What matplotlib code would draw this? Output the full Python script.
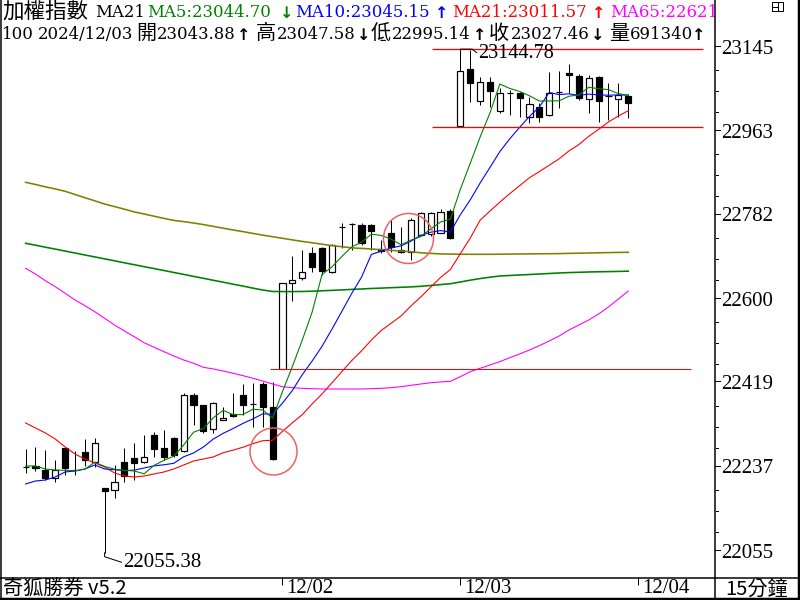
import matplotlib
matplotlib.use('Agg')
import matplotlib.pyplot as plt
from matplotlib.transforms import blended_transform_factory
from matplotlib.lines import Line2D
from matplotlib.patches import Rectangle

# ---------------- data (15-minute bars, 2024/11/28 .. 2024/12/03) ----------------
opens = [22241, 22243, 22234.5, 22217, 22282, 22235, 22273.5, 22252, 22196, 22191,
         22252, 22260.5, 22252, 22310, 22282, 22304, 22276, 22397, 22375, 22323,
         22343, 22356, 22397, 22378, 22420.5, 22371, 22453, 22639, 22650, 22704,
         22715, 22663, 22761, 22766, 22764, 22764, 22712.5, 22747, 22710, 22706,
         22743, 22745, 22747, 22795, 22978, 23102, 23032.6, 23074, 23011, 23050,
         23050, 22998, 23019.6, 23002, 23051, 23093, 23087, 23037, 23084.5, 23043,
         23037, 23043.88]
highs = [22280, 22284, 22278, 22256, 22283, 22276, 22302, 22304, 22196, 22245,
         22282, 22293, 22310, 22317, 22321, 22306, 22401, 22401, 22376, 22382,
         22371, 22401, 22420.5, 22423, 22425, 22425, 22640, 22697, 22710, 22717,
         22717, 22723, 22769, 22769, 22769, 22766.6, 22732, 22775, 22760, 22779.5,
         22792.5, 22792.5, 22799, 22799, 23144.78, 23143, 23084.5, 23084, 23061, 23056,
         23052, 23041, 23028, 23095, 23097, 23112.6, 23091, 23089, 23087, 23071.5,
         23071.5, 23047.58]
lows = [22228, 22232, 22213, 22209, 22224, 22224, 22243, 22241, 22055.38, 22174,
        22209, 22213, 22250, 22263, 22256, 22263, 22273.5, 22332, 22314.5, 22314.5,
        22342, 22349, 22353.5, 22327.5, 22327.5, 22256, 22453, 22600, 22645, 22663,
        22656, 22661, 22715, 22710, 22721, 22710, 22704, 22706, 22704, 22689,
        22741, 22741, 22747, 22734, 22976, 23030, 23024, 23019.6, 23006.6, 23002,
        22998, 22985, 22987, 23000, 23017, 23050, 23035, 23007, 22987, 22991.5,
        22998, 22995.14]
closes = [22240, 22239, 22217, 22234.5, 22239, 22234, 22256, 22293, 22189, 22209,
          22221.5, 22250, 22263, 22280, 22263, 22267, 22397, 22375, 22319, 22379,
          22347, 22351, 22375, 22377, 22371, 22258, 22639, 22645, 22663, 22674,
          22665, 22721, 22759, 22767, 22725.5, 22751, 22708, 22717, 22706, 22775,
          22790, 22790, 22792.5, 22736, 23097, 23071.5, 23073.7, 23054, 23050, 23049,
          23039, 23026, 22998, 23050, 23053, 23089, 23039, 23082, 23032.6, 23044,
          23045.5, 23027.46]

ma5 = [22243.2, 22243.2, 22236.7, 22234.5, 22233.7, 22232.8, 22236.3, 22251.4, 22242.3, 22236.3,
       22233.7, 22232.4, 22226.3, 22244.5, 22255.3, 22264.4, 22288.6, 22316.3, 22324.1, 22347.4,
       22363.4, 22354.3, 22354.3, 22366.0, 22364.3, 22346.6, 22404.1, 22458.2, 22515.3, 22575.8,
       22657.1, 22673.6, 22696.1, 22716.8, 22727.2, 22744.5, 22741.9, 22733.7, 22721.6, 22731.5,
       22739.3, 22755.7, 22770.9, 22776.9, 22841.4, 22897.6, 22954.3, 23006.6, 23069.3, 23059.8,
       23053.3, 23043.8, 23032.6, 23032.6, 23033.0, 23043.0, 23045.5, 23062.4, 23059.0, 23057.2,
       23048.6, 23044.70]
ma10 = [22204.3, 22210.7, 22212.9, 22219.4, 22230.2, 22232.4, 22236.7, 22245.3, 22236.7, 22235.0,
        22233.2, 22234.3, 22238.9, 22243.4, 22245.8, 22249.0, 22263.1, 22271.3, 22284.3, 22301.4,
        22313.9, 22324.1, 22335.3, 22345.0, 22355.9, 22355.0, 22379.2, 22406.3, 22440.6, 22470.1,
        22501.8, 22538.8, 22577.1, 22616.0, 22651.5, 22700.8, 22707.7, 22714.9, 22719.2, 22729.4,
        22741.9, 22748.8, 22752.3, 22749.3, 22786.5, 22818.5, 22855.0, 22888.8, 22923.1, 22950.6,
        22975.5, 22999.1, 23019.6, 23051.0, 23046.4, 23048.1, 23044.7, 23047.5, 23045.8, 23045.1,
        23045.8, 23045.15]
ma21 = [22336.2, 22325.4, 22314.6, 22301.6, 22284.3, 22269.1, 22258.3, 22249.7, 22241.0, 22228.0,
        22221.6, 22219.4, 22221.6, 22225.9, 22230.2, 22236.7, 22245.3, 22254.0, 22258.3, 22262.7,
        22271.9, 22277.4, 22283.8, 22291.4, 22297.9, 22298.8, 22318.0, 22336.6, 22354.1, 22377.3,
        22398.9, 22422.7, 22446.9, 22470.9, 22492.1, 22515.5, 22536.4, 22551.8, 22567.6, 22589.2,
        22608.7, 22629.9, 22650.9, 22668.2, 22702.3, 22735.8, 22774.6, 22794.5, 22813.7, 22832.1,
        22849.4, 22866.7, 22879.9, 22893.7, 22907.4, 22924.7, 22938.3, 22956.2, 22971.2, 22987.2,
        23000.1, 23011.57]
ma65 = [22670.8, 22658.4, 22643.9, 22631.0, 22616.7, 22602.2, 22589.9, 22576.9, 22562.6, 22548.1,
        22535.2, 22522.8, 22509.8, 22499.9, 22490.4, 22481.1, 22472.4, 22465.3, 22456.6, 22453.0,
        22448.6, 22443.7, 22438.5, 22432.9, 22427.0, 22420.5, 22414.7, 22412.5, 22411.2, 22410.4,
        22409.7, 22409.7, 22409.7, 22409.7, 22409.7, 22410.4, 22411.2, 22412.5, 22414.7, 22417.7,
        22420.5, 22423.3, 22424.9, 22426.4, 22436.3, 22447.1, 22454.5, 22461.6, 22468.8, 22477.4,
        22485.4, 22494.1, 22503.4, 22513.5, 22524.3, 22537.3, 22548.1, 22558.9, 22571.9, 22587.1,
        22604.4, 22621.5]
long_ma_a = [22856.7, 22852.0, 22847.0, 22842.3, 22837.3, 22830.4, 22823.4, 22816.7, 22809.8, 22804.2,
             22798.6, 22792.7, 22788.2, 22783.4, 22778.7, 22774.3, 22771.7, 22768.7, 22765.3, 22761.4,
             22757.5, 22753.6, 22750.1, 22746.2, 22742.5, 22739.1, 22735.6, 22732.2, 22728.9, 22725.9,
             22722.9, 22719.8, 22717.5, 22714.9, 22713.8, 22712.5, 22711.0, 22709.5, 22708.2, 22706.4,
             22704.3, 22703.0, 22701.9, 22701.5, 22701.2, 22701.0, 22701.0, 22701.0, 22701.2, 22701.5,
             22701.7, 22701.9, 22702.1, 22702.3, 22702.5, 22703.0, 22703.4, 22703.8, 22704.3, 22704.7,
             22705.1, 22705.3]
long_ma_b = [22724.8, 22720.7, 22716.4, 22712.3, 22708.0, 22703.8, 22699.5, 22695.4, 22691.1, 22687.0,
             22682.6, 22678.5, 22674.2, 22670.1, 22666.0, 22661.7, 22657.6, 22653.2, 22649.1, 22644.8,
             22640.7, 22636.4, 22632.3, 22627.9, 22623.8, 22620.6, 22620.4, 22620.4, 22620.6, 22621.2,
             22622.1, 22623.0, 22624.0, 22625.1, 22626.0, 22627.1, 22627.9, 22628.8, 22629.7, 22630.5,
             22631.8, 22633.6, 22635.5, 22637.4, 22641.1, 22645.0, 22648.5, 22651.5, 22654.1, 22655.2,
             22656.3, 22657.3, 22658.4, 22659.5, 22660.6, 22661.5, 22662.1, 22662.8, 22663.2, 22663.6,
             22664.0, 22664.5]

y_ticks = [23145, 22963, 22782, 22600, 22419, 22237, 22055]
date_ticks = [26, 44, 62]
date_labels = ['12/02', '12/03', '12/04']

low_idx, low_val = 8, 22055.38
high_idx, high_val = 44, 23144.78
range_high, range_low = 23144.78, 22976
gap_level = 22453
circles = [(25, 22275.6), (38.7, 22736.3)]

# ---------------- figure ----------------
W, H = 800, 600
fig = plt.figure(figsize=(8, 6), dpi=100)
fig.patch.set_facecolor('white')

def fx(x):
    return x / W

def fy(y):
    return 1 - y / H

ax = fig.add_axes([0, fy(577), fx(715), 577 / H])
ax.set_xlim(-2.59, 69.78)
ax.set_ylim(22003.1, 23251.0)
ax.axis('off')

SERIF = ['DejaVu Serif', 'Noto Sans CJK TC']
NUM = ['Liberation Serif', 'DejaVu Serif']
CJK = ['Noto Sans CJK TC', 'DejaVu Sans']
ARW = ['DejaVu Sans']

px = 0.72  # one pixel in points

# candles
xs = list(range(len(opens)))
ax.vlines(xs, lows, highs, colors='black', linewidth=1.0 * px, zorder=2)
for i in xs:
    o, c = opens[i], closes[i]
    face = 'white' if c >= o else 'black'
    ax.bar(i, abs(c - o), bottom=min(o, c), width=0.62, facecolor=face,
           edgecolor='black', linewidth=1.2 * px, zorder=3)

# moving averages
ax.plot(xs, long_ma_a, color='#808000', lw=1.6 * px, zorder=4)
ax.plot(xs, long_ma_b, color='#008000', lw=1.6 * px, zorder=4)
ax.plot(xs, ma65, color='#ff00ff', lw=1.1 * px, zorder=4)
ax.plot(xs, ma21, color='#ff0000', lw=1.1 * px, zorder=4)
ax.plot(xs, ma10, color='#0000ff', lw=1.1 * px, zorder=4)
ax.plot(xs, ma5, color='#008000', lw=1.1 * px, zorder=4)

# range / gap lines
ax.hlines([range_high, range_low], 41.1, 68.6, colors='#ff0000', lw=1.3 * px, zorder=4)
ax.hlines([gap_level], 24.7, 67.4, colors='#ff0000', lw=1.0 * px, zorder=4)

# circles
ax.plot([circles[0][0]], [circles[0][1]], marker='o', ms=47 * px, mfc='none',
        mec='#ef5f5f', mew=1.5 * px, zorder=5)
ax.plot([circles[1][0]], [circles[1][1]], marker='o', ms=50 * px, mfc='none',
        mec='#ef5f5f', mew=1.5 * px, zorder=5)

# low / high annotations
ax.plot([low_idx, low_idx, 9.7], [low_val, 22047, 22035], color='black', lw=1.0 * px, zorder=4)
ax.text(9.9, 22035, f'{low_val:.2f}', fontsize=15, family=NUM, ha='left', va='center', zorder=6)
ax.plot([high_idx, 45.2, 45.66], [high_val, high_val, 23137], color='black', lw=1.0 * px, zorder=4)
ax.text(45.85, 23135.5, f'{high_val:.2f}', fontsize=14.5, family=NUM, ha='left', va='center', zorder=6)

# header text
def htext(x, y, s, color='black', fam=SERIF, size=11.9, weight='normal', ha='left'):
    ax.text(fx(x), fy(y), s, transform=fig.transFigure, color=color, family=fam,
            fontsize=size, ha=ha, va='baseline', clip_on=True, weight=weight, zorder=7)

def arrow(xc, y, s, color='black'):
    htext(xc, y, s, color=color, fam=ARW, size=11.5, weight='bold', ha='center')

b1, b2 = 17, 39
htext(2, b1 + 1, '加權指數', fam=CJK, size=15.5)
htext(95, b1, 'MA21')
htext(147, b1, f'MA5:{ma5[-1]:.2f}', color='#008000')
arrow(287, b1 + 1, '↓', color='#008000')
htext(295, b1, f'MA10:{ma10[-1]:.2f}', color='#0000ff')
arrow(442, b1 + 1, '↑', color='#0000ff')
htext(452, b1, f'MA21:{ma21[-1]:.2f}', color='#ff0000')
arrow(599, b1 + 1, '↑', color='#ff0000')
htext(610, b1, 'MA65:22621', color='#ff00ff')

htext(2, b2, '100')
htext(38, b2, '2024/12/03')
htext(136, b2, '開', fam=CJK, size=14.5)
htext(157, b2, f'{opens[-1]:.2f}')
arrow(243.5, b2 + 1, '↑')
htext(256, b2, '高', fam=CJK, size=14.5)
htext(277, b2, f'{highs[-1]:.2f}')
arrow(363.5, b2 + 1, '↓')
htext(371, b2, '低', fam=CJK, size=14.5)
htext(392, b2, f'{lows[-1]:.2f}')
arrow(479.5, b2 + 1, '↑')
htext(489, b2, '收', fam=CJK, size=14.5)
htext(511, b2, f'{closes[-1]:.2f}')
arrow(598, b2 + 1, '↓')
htext(609, b2, '量', fam=CJK, size=14.5)
htext(630, b2, '691340')
arrow(699, b2 + 1, '↑')

# right price axis
tr = blended_transform_factory(fig.transFigure, ax.transData)
step = (y_ticks[0] - y_ticks[1])
for v in y_ticks:
    fig.add_artist(Line2D([fx(715), fx(720)], [v + 7, v + 7], transform=tr, color='black', lw=1.0 * px))
    ax.text(fx(721), v, str(v), transform=tr, fontsize=15, family=NUM, ha='left', va='center', clip_on=False)
for k in range(len(y_ticks) - 1):
    for q in (1, 2, 3):
        v = y_ticks[k] - step * q / 4
        fig.add_artist(Line2D([fx(716), fx(718)], [v, v], transform=tr, color='black', lw=1.0 * px))

# bottom strip
axb = fig.add_axes([0, 0, fx(715), 23 / H], sharex=ax)
axb.set_ylim(0, 1)
axb.axis('off')
axb.vlines(date_ticks, 0.65, 1.0, colors='black', lw=1.0 * px)
for d, lab in zip(date_ticks, date_labels):
    axb.text(d + 0.4, 0.48, lab, fontsize=15, family=NUM, ha='left', va='center')
fig.text(fx(3), fy(589), '奇狐勝券 v5.2', fontsize=14.5, family=['Noto Sans CJK TC', 'Liberation Serif'],
         ha='left', va='center')
fig.text(fx(757), fy(589), '15分鐘', fontsize=14.5, family=['Noto Sans CJK TC', 'Liberation Serif'],
         ha='center', va='center')

# frame and separators
def fline(x0, y0, x1, y1, lw=1.0):
    fig.add_artist(Line2D([fx(x0), fx(x1)], [fy(y0), fy(y1)], transform=fig.transFigure,
                          color='black', lw=lw * px))

fline(0.5, 0, 0.5, 600, 1.5)
fline(798.5, 0, 798.5, 600, 2.5)
fline(0, 598.5, 800, 598.5, 2.5)
fline(0, 577.5, 800, 577.5, 1.5)
fline(715, 0, 715, 600, 1.5)

# small window icon at top right
fig.add_artist(Rectangle((fx(772), fy(11)), fx(11), 9 / H, transform=fig.transFigure,
                         fill=False, edgecolor='black', lw=1.0 * px))
fline(778, 2, 778, 11)
fline(772, 6.5, 778, 6.5)

fig.savefig('out.png', dpi=100, facecolor='white')
